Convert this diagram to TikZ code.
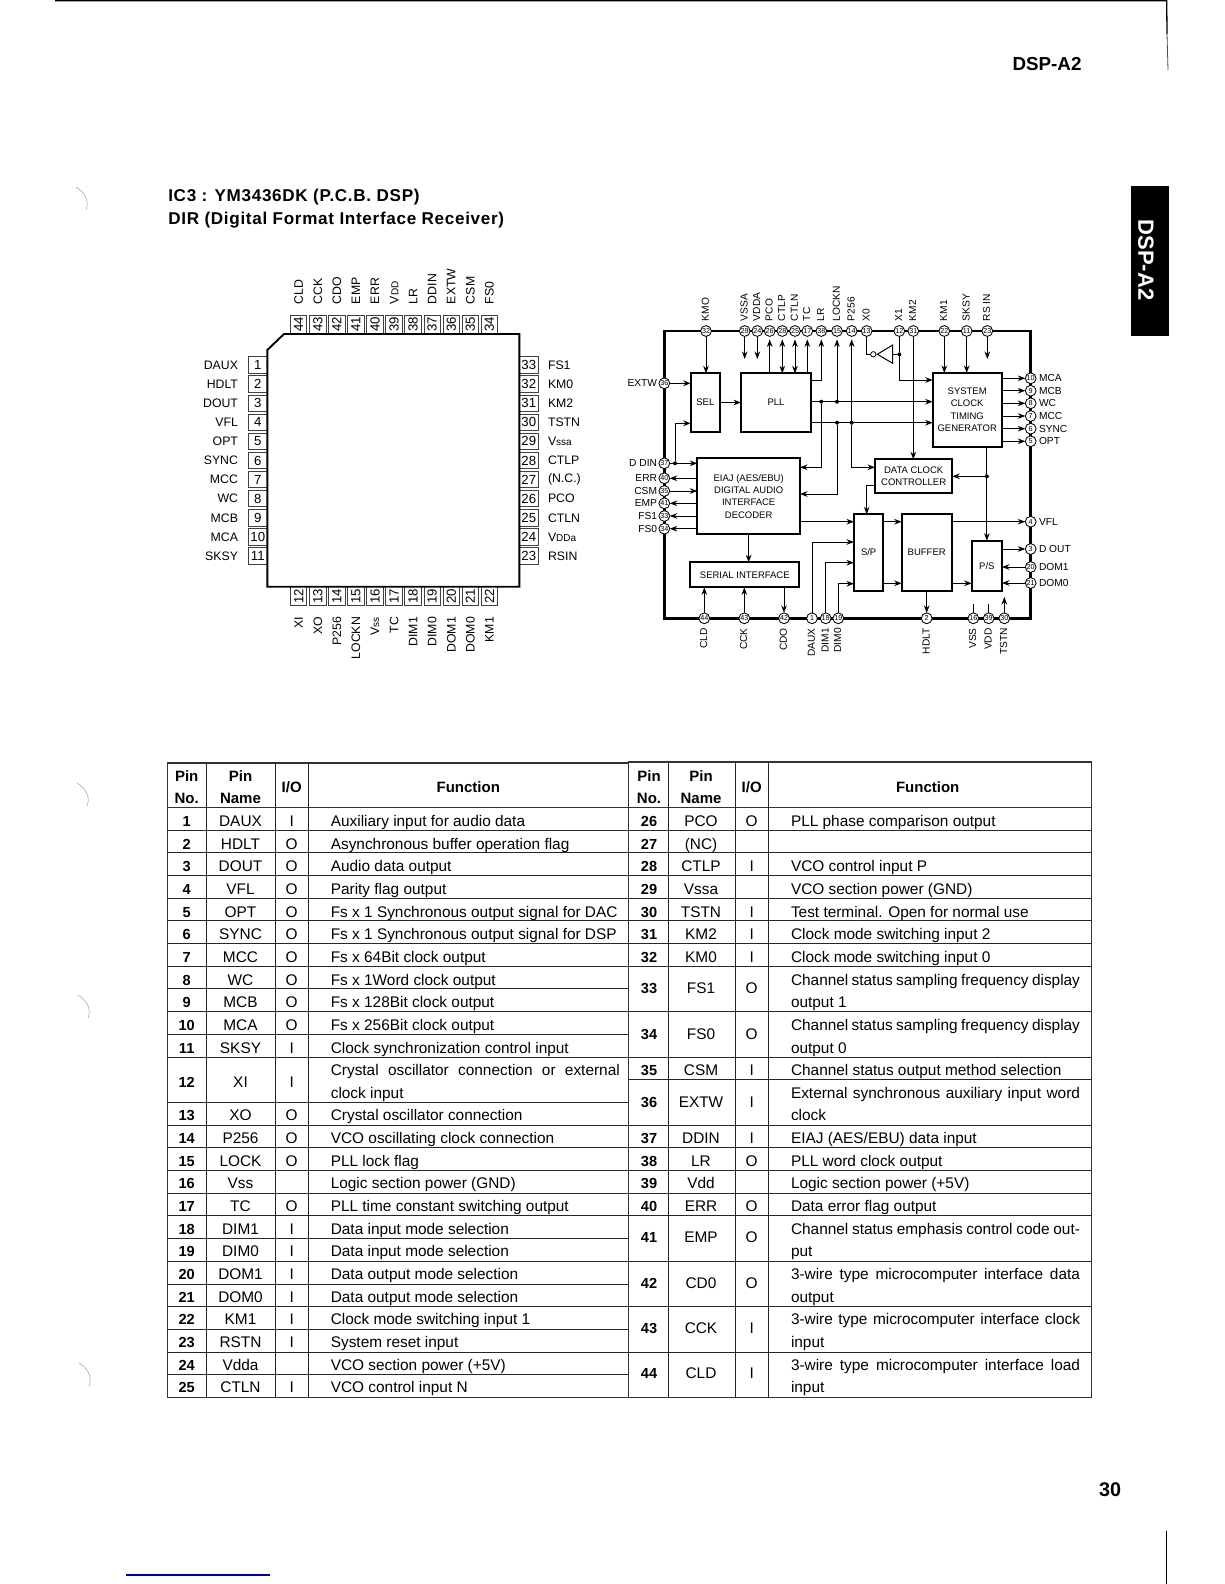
\documentclass[tikz,border=0pt]{standalone}
\usepackage{fontspec}
\setmainfont{Liberation Sans}
\newfontfamily\titlefont[LetterSpace=4]{Liberation Sans}
\usetikzlibrary{arrows.meta}
\newcommand{\fs}[1]{\fontsize{#1pt}{#1pt}\selectfont}
\newlength{\wrapw}\setlength{\wrapw}{289pt}
\tikzset{
  x=1pt,y=-1pt,
  every node/.style={inner sep=0pt,outer sep=0pt},
  icbody/.style={draw=black,line width=1.9pt,line join=miter},
  icpin/.style={draw=black!75,line width=0.9pt,fill=white,minimum size=0pt,font=\fs{13.2}},
  hpin/.style={icpin,minimum width=19pt,minimum height=16.4pt},
  vpin/.style={icpin,minimum width=16.4pt,minimum height=19pt},
  iclab/.style={font=\fs{12.3}},
  frame/.style={draw=black,line width=2.5pt},
  blk/.style={draw=black,line width=1.8pt,font=\fs{9.5},align=center},
  pin/.style={circle,draw=black,line width=0.85pt,fill=white,minimum size=10.8pt,font=\fs{7.2}},
  dlab/.style={font=\fs{10.2}},
  dot/.style={circle,fill=black,minimum size=4pt},
  wire/.style={draw=black,line width=1pt},
  ar/.style={wire,-{Stealth[length=7.5pt,width=5.6pt]}},
  arn/.style={ar,shorten >=3pt},
  br/.style={wire,{Stealth[length=7.5pt,width=5.6pt]}-{Stealth[length=7.5pt,width=5.6pt]},shorten >=3pt},
  tline/.style={draw=black!85,line width=1pt},
  touter/.style={draw=black!80,line width=1.2pt},
  cell/.style={font=\fs{15.4},anchor=base},
  bcell/.style={font=\bfseries\fs{14.6},anchor=base},
  head/.style={font=\bfseries\fs{15},anchor=base},
  ftext/.style={font=\fs{15.4},anchor=base west},
  scuff/.style={draw=black!45,line width=0.4pt}
}
\newcommand{\LR}[5]{%
  \node[bcell] (ln#2) at (186.7,{807.3+22.64*(#1+1)-3.3}) {#2};
  \node[cell] (lm#2) at (240.5,{807.3+22.64*(#1+1)-3.3}) {#3};
  \node[cell] (li#2) at (291.7,{807.3+22.64*(#1+1)-3.3}) {#4};
  \node[ftext] (lf#2) at (330.8,{807.3+22.64*(#1+1)-3.3}) {#5};}
\newcommand{\RR}[5]{%
  \node[bcell] (rn#2) at (649,{807.3+22.64*(#1+1)-3.3}) {#2};
  \node[cell] (rm#2) at (701,{807.3+22.64*(#1+1)-3.3}) {#3};
  \node[cell] (ri#2) at (751.7,{807.3+22.64*(#1+1)-3.3}) {#4};
  \node[ftext] (rf#2) at (791,{807.3+22.64*(#1+1)-3.3}) {#5};}
\newcommand{\RS}[6]{%
  \node[bcell] (rn#2) at (649,{807.3+22.64*(#1+1)+5.5}) {#2};
  \node[cell] (rm#2) at (701,{807.3+22.64*(#1+1)+5.5}) {#3};
  \node[cell] (ri#2) at (751.7,{807.3+22.64*(#1+1)+5.5}) {#4};
  \node[ftext] (rf#2) at (791,{807.3+22.64*(#1+1)-3.3}) {\makebox[\wrapw][s]{#5}};
  \node[ftext] (rg#2) at (791,{807.3+22.64*(#1+2)-3.3}) {#6};}
\begin{document}
\begin{tikzpicture}
\useasboundingbox (0,0) rectangle (1224,1584);
\fill[white] (0,0) rectangle (1224,1584);
% page furniture
\draw[black,line width=1.3pt] (55,0.8) -- (1166.7,0.8) -- (1167,34);
\draw[black!70,line width=0.8pt] (1167,34) -- (1168,70);
\draw[black,line width=0.9pt] (1166.5,1531) -- (1166.5,1584);
\draw[blue!60!black,line width=1.1pt] (126,1575) -- (270,1575);
\foreach \dy/\dx in {0/0,596/1,808/2,1176/3}{
  \draw[scuff] (76+\dx,187+\dy) .. controls (84+\dx,192+\dy) and (90+\dx,200+\dy) .. (86+\dx,210+\dy);}
\node[font=\bfseries\fs{18.8},anchor=west] (hdr) at (1012.5,64.5) {DSP-A2};
\node[font=\bfseries\fs{19.8},anchor=west] (pgno) at (1099,1490) {30};
\node[fill=black,minimum width=38.3pt,minimum height=150pt] (tab) at (1149.85,261) {};
\node[font=\bfseries\fs{22},text=white,rotate=-90] (tabt) at (1146,260) {DSP-A2};
\node[font=\titlefont\bfseries\fs{17.1},anchor=west] (t1) at (168.3,197) {IC3 : YM3436DK (P.C.B. DSP)};
\node[font=\titlefont\bfseries\fs{17.1},anchor=west] (t2) at (168.3,220) {DIR (Digital Format Interface Receiver)};
% ---------- package outline ----------
\coordinate (bA) at (284,334);\coordinate (bB) at (519.3,334);
\coordinate (bC) at (519.3,586.7);\coordinate (bD) at (267.3,586.7);\coordinate (bE) at (267.3,350);
\foreach \n/\l [count=\i from 0] in {1/DAUX,2/HDLT,3/DOUT,4/VFL,5/OPT,6/SYNC,7/MCC,8/WC,9/MCB,10/MCA,11/SKSY}{
  \node[hpin] (Lp\n) at (257.8,365+19.1*\i) {\n};
  \node[iclab,anchor=east] (Ll\n) at (238,365+19.1*\i) {\l};}
\foreach \n/\l [count=\i from 0] in {33/FS1,32/KM0,31/KM2,30/TSTN,29/{V{\fs{10}ssa}},28/CTLP,27/(N.C.),26/PCO,25/CTLN,24/{V{\fs{10}DDa}},23/RSIN}{
  \node[hpin] (Rp\n) at (528.8,365+19.1*\i) {\n};
  \node[iclab,anchor=west] (Rl\n) at (548,365+19.1*\i) {\l};}
\foreach \n/\l [count=\i from 0] in {44/CLD,43/CCK,42/CDO,41/EMP,40/ERR,39/{V{\fs{10}DD}},38/LR,37/DDIN,36/EXTW,35/CSM,34/FS0}{
  \node[vpin] (Tp\n) at (298.7+19.07*\i,324.5) {\rotatebox{90}{\n}};
  \node[iclab,anchor=west,rotate=90] (Tl\n) at (298.7+19.07*\i,304) {\l};}
\foreach \n/\l [count=\i from 0] in {12/XI,13/XO,14/P256,15/LOCKN,16/{V{\fs{10}ss}},17/TC,18/DIM1,19/DIM0,20/DOM1,21/DOM0,22/KM1}{
  \node[vpin] (Bp\n) at (298.7+19.07*\i,596.3) {\rotatebox{90}{\n}};
  \node[iclab,anchor=east,rotate=90] (Bl\n) at (298.7+19.07*\i,617) {\l};}
\draw[icbody] (bA) -- (bB) -- (bC) -- (bD) -- (bE) -- cycle;
% ---------- block diagram ----------
\node[frame,minimum width=366.4pt,minimum height=287.3pt] (frm) at (847.5,474.65) {};
\foreach \n/\x/\l in {32/706/KMO,29/744.7/VSSA,24/757.3/VDDA,26/769.7/PCO,28/782.3/CTLP,25/795/CTLN,17/807.3/TC,38/821.3/LR,15/837/LOCKN,14/851.7/P256,13/866.7/X0,12/899.3/X1,31/913.3/KM2,22/944.3/KM1,11/966.7/SKSY,23/987.3/RS IN}{
  \node[pin] (p\n) at (\x,331) {\n};
  \node[dlab,anchor=west,rotate=90] (l\n) at (\x-0.7,321) {\l};}
\foreach \n/\y/\l in {36/383.3/EXTW,37/463.3/D DIN,40/478.3/ERR,35/491/CSM,41/503.3/EMP,33/516/FS1,34/528.7/FS0}{
  \node[pin] (p\n) at (664.3,\y) {\n};
  \node[dlab,anchor=east] (l\n) at (657,\y) {\l};}
\foreach \n/\y/\l in {10/378.3/MCA,9/390.7/MCB,8/403.3/WC,7/416/MCC,6/428.7/SYNC,5/441.3/OPT,4/521.7/VFL,3/549/D OUT,20/567/DOM1,21/583/DOM0}{
  \node[pin] (p\n) at (1030.7,\y) {\n};
  \node[dlab,anchor=west] (l\n) at (1039,\y) {\l};}
\foreach \n/\x/\l in {44/704.3/CLD,43/744.3/CCK,42/784/CDO,1/812/DAUX,18/825.7/DIM1,19/838.3/DIM0,2/926.7/HDLT,16/973.3/VSS,39/988.7/VDD,30/1004.3/TSTN}{
  \node[pin] (p\n) at (\x,618.3) {\n};
  \node[dlab,anchor=east,rotate=90] (l\n) at (\x-0.7,628.3) {\l};}
\node[blk,minimum width=29.3pt,minimum height=58.4pt] (sel) at (705.35,402.5) {SEL};
\node[blk,minimum width=70pt,minimum height=58.4pt] (pll) at (776,402.5) {PLL};
\node[blk,minimum width=69pt,minimum height=73.7pt] (sys) at (967.2,409.85) {SYSTEM\\[2.8pt]CLOCK\\[2.8pt]TIMING\\[2.8pt]GENERATOR};
\node[blk,minimum width=102.7pt,minimum height=75.7pt] (eiaj) at (748.65,496.15) {EIAJ (AES/EBU)\\[2.8pt]DIGITAL AUDIO\\[2.8pt]INTERFACE\\[2.8pt]DECODER};
\node[blk,minimum width=77.3pt,minimum height=34pt] (dcc) at (913.65,476.3) {DATA CLOCK\\[2.8pt]CONTROLLER};
\node[blk,minimum width=29.3pt,minimum height=76.4pt] (sp) at (868.65,552.5) {S/P};
\node[blk,minimum width=50pt,minimum height=76.4pt] (buf) at (926.7,552.5) {BUFFER};
\node[blk,minimum width=30.3pt,minimum height=50pt] (ps) at (986.85,565.7) {P/S};
\node[blk,minimum width=109pt,minimum height=25pt] (ser) at (744.8,574.8) {SERIAL INTERFACE};
% helper rails
\coordinate (ya) at (0,401.7); \coordinate (yb) at (0,422.7);
\coordinate (yc) at (0,467.3); \coordinate (yd) at (0,494);
\coordinate (ye) at (0,583.3); \coordinate (pwr) at (0,359);
\coordinate (lrb) at (0,380); \coordinate (spin) at (866.7,485);
\coordinate (xinv) at (0,354.3);
\node[dot] (d1) at (p38 |- ya) {};
\node[dot] (d2) at (p15 |- ya) {};
\node[dot] (d3) at (p15 |- yb) {};
\node[dot] (d4) at (p14 |- yb) {};
\node[dot] (d5) at (p12 |- xinv) {};
\node[dot] (d6) at (ps.north |- dcc.east) {};
\node[dot] (d7) at (675,463.3) {};
% top connections
\draw[ar] (p32) -- (p32 |- sel.north);
\draw[ar] (p29) -- (p29 |- pwr);
\draw[ar] (p24) -- (p24 |- pwr);
\draw[ar] (p23) -- (p23 |- pwr);
\draw[arn] (pll.north -| p26) -- (p26);
\draw[br] (pll.north -| p28) -- (p28);
\draw[br] (pll.north -| p25) -- (p25);
\draw[arn] (pll.north -| p17) -- (p17);
\draw[arn] (pll.east |- lrb) -- (p38 |- lrb) -- (p38);
\draw[ar] (pll.east |- ya) -- (sys.west |- ya);
\draw[ar] (pll.east |- yb) -- (sys.west |- yb);
\draw[arn] (d2) -- (p15);
\draw[ar] (d1) -- (p38 |- yc) -- (eiaj.east |- yc);
\draw[ar] (d3) -- (p15 |- yd) -- (eiaj.east |- yd);
\draw[arn] (d4) -- (p14);
\draw[ar] (d4) -- (p14 |- yc) -- (dcc.west |- yc);
% oscillator
\node[circle,draw=black,line width=0.8pt,fill=white,minimum size=5.4pt] (bub) at (873.3,354.3) {};
\coordinate (ia) at (877.3,354.3);\coordinate (ib) at (892.7,345);\coordinate (ic) at (892.7,363.3);\coordinate (id) at (892.7,354.3);
\draw[black,line width=1pt] (ia) -- (ib) -- (ic) -- cycle;
\draw[wire] (p13) -- (p13 |- xinv) -- (bub);
\draw[wire] (id) -- (d5);
\draw[wire] (p12) -- (d5);
\draw[ar] (d5) -- (p12 |- lrb) -- (sys.west |- lrb);
\draw[ar] (p31) -- (p31 |- dcc.north);
\draw[ar] (p22) -- (p22 |- sys.north);
\draw[ar] (p11) -- (p11 |- sys.north);
% system clock outputs
\foreach \n in {10,9,8,7,6,5}{\draw[ar] (sys.east |- p\n) -- (p\n);}
\draw[ar] (ps.north |- sys.south) -- (ps.north);
\draw[ar] (d6) -- (dcc.east);
% left side
\draw[ar] (p36) -- (p36 -| sel.west);
\draw[ar] (sel.east) -- (pll.west);
\draw[wire] (p37) -- (d7);
\draw[ar] (d7) -- (d7 -| eiaj.west);
\draw[ar] (d7) -- (d7 |- 0,423.3) -- (sel.west |- 0,423.3);
\draw[ar] (eiaj.west |- p40) -- (p40);
\draw[ar] (p35) -- (eiaj.west |- p35);
\draw[ar] (eiaj.west |- p41) -- (p41);
\draw[ar] (eiaj.west |- p33) -- (p33);
\draw[ar] (eiaj.west |- p34) -- (p34);
% data path
\draw[ar] (eiaj.east |- p4) -- (sp.west |- p4);
\draw[ar] (sp.east |- p4) -- (buf.west |- p4);
\draw[ar] (sp.east |- ye) -- (buf.west |- ye);
\draw[ar] (buf.east |- p4) -- (p4);
\draw[ar] (buf.east |- ye) -- (ps.west |- ye);
\draw[ar] (buf.south) -- (p2);
\draw[ar] (ps.east |- p3) -- (p3);
\draw[ar] (p20) -- (ps.east |- p20);
\draw[ar] (p21) -- (ps.east |- p21);
\draw[wire] (p16) -- (p16 |- 0,604);
\draw[wire] (p39) -- (p39 |- 0,604);
\draw[ar] (p30) -- (p30 |- 0,597);
\draw[ar] (p44) -- (p44 |- ser.south);
\draw[ar] (p43) -- (p43 |- ser.south);
\draw[ar] (ser.south -| p42) -- (p42);
\draw[ar] (p1) -- (p1 |- 0,542) -- (sp.west |- 0,542);
\draw[ar] (p18) -- (p18 |- 0,562.7) -- (sp.west |- 0,562.7);
\draw[ar] (p19) -- (p19 |- 0,583.7) -- (sp.west |- 0,583.7);
\draw[wire] (dcc.west |- spin) -- (spin);
\draw[ar] (spin) -- (spin |- sp.north);
\draw[ar] (eiaj.south) -- (eiaj.south |- ser.north);
% ---------- table rules ----------
\draw[touter] (167.3,763) rectangle (628.5,1397.5);
\draw[touter] (628.5,762) rectangle (1091.7,1397.5);
\foreach \x in {206.7,275,308.3,668,735,768.7}{\draw[tline] (\x,763) -- (\x,1397.5);}
\draw[touter] (167.3,807.3) -- (1091.7,807.3);
\foreach \b in {1,...,25}{
  \ifnum\b=12\else\draw[tline] (167.3,807.3+22.7*\b) -- (628.5,807.3+22.7*\b);\fi}
\foreach \b in {1,2,3,4,5,6,7,9,11,12,14,15,16,17,18,20,22,24}{
  \draw[tline] (628.5,807.3+22.7*\b) -- (1091.7,807.3+22.7*\b);}
% headers
\node[head] (h1a) at (186.7,781) {Pin};
\node[head] (h1b) at (186.7,803.5) {No.};
\node[head] (h2a) at (240.5,781) {Pin};
\node[head] (h2b) at (240.5,803.5) {Name};
\node[head] (h3) at (291.7,792.3) {I/O};
\node[head] (h4) at (468.3,792.3) {Function};
\node[head] (h5a) at (649,781) {Pin};
\node[head] (h5b) at (649,803.5) {No.};
\node[head] (h6a) at (701,781) {Pin};
\node[head] (h6b) at (701,803.5) {Name};
\node[head] (h7) at (751.7,792.3) {I/O};
\node[head] (h8) at (927.7,792.3) {Function};
% left rows
\LR{0}{1}{DAUX}{I}{Auxiliary input for audio data}
\LR{1}{2}{HDLT}{O}{Asynchronous buffer operation flag}
\LR{2}{3}{DOUT}{O}{Audio data output}
\LR{3}{4}{VFL}{O}{Parity flag output}
\LR{4}{5}{OPT}{O}{Fs x 1 Synchronous output signal for DAC}
\LR{5}{6}{SYNC}{O}{Fs x 1 Synchronous output signal for DSP}
\LR{6}{7}{MCC}{O}{Fs x 64Bit clock output}
\LR{7}{8}{WC}{O}{Fs x 1Word clock output}
\LR{8}{9}{MCB}{O}{Fs x 128Bit clock output}
\LR{9}{10}{MCA}{O}{Fs x 256Bit clock output}
\LR{10}{11}{SKSY}{I}{Clock synchronization control input}
\node[bcell] (ln12) at (186.7,1087) {12};
\node[cell] (lm12) at (240.5,1087) {XI};
\node[cell] (li12) at (291.7,1087) {I};
\node[ftext] (lf12) at (330.8,{807.3+22.64*12-3.3}) {\makebox[\wrapw][s]{Crystal oscillator connection or external}};
\node[ftext] (lg12) at (330.8,{807.3+22.64*13-3.3}) {clock input};
\LR{13}{13}{XO}{O}{Crystal oscillator connection}
\LR{14}{14}{P256}{O}{VCO oscillating clock connection}
\LR{15}{15}{LOCK}{O}{PLL lock flag}
\LR{16}{16}{Vss}{}{Logic section power (GND)}
\LR{17}{17}{TC}{O}{PLL time constant switching output}
\LR{18}{18}{DIM1}{I}{Data input mode selection}
\LR{19}{19}{DIM0}{I}{Data input mode selection}
\LR{20}{20}{DOM1}{I}{Data output mode selection}
\LR{21}{21}{DOM0}{I}{Data output mode selection}
\LR{22}{22}{KM1}{I}{Clock mode switching input 1}
\LR{23}{23}{RSTN}{I}{System reset input}
\LR{24}{24}{Vdda}{}{VCO section power (+5V)}
\LR{25}{25}{CTLN}{I}{VCO control input N}
% right rows
\RR{0}{26}{PCO}{O}{PLL phase comparison output}
\RR{1}{27}{(NC)}{}{}
\RR{2}{28}{CTLP}{I}{VCO control input P}
\RR{3}{29}{Vssa}{}{VCO section power (GND)}
\RR{4}{30}{TSTN}{I}{Test terminal. Open for normal use}
\RR{5}{31}{KM2}{I}{Clock mode switching input 2}
\RR{6}{32}{KM0}{I}{Clock mode switching input 0}
\RS{7}{33}{FS1}{O}{Channel status sampling frequency display}{output 1}
\RS{9}{34}{FS0}{O}{Channel status sampling frequency display}{output 0}
\RR{11}{35}{CSM}{I}{Channel status output method selection}
\RS{12}{36}{EXTW}{I}{External synchronous auxiliary input word}{clock}
\RR{14}{37}{DDIN}{I}{EIAJ (AES/EBU) data input}
\RR{15}{38}{LR}{O}{PLL word clock output}
\RR{16}{39}{Vdd}{}{Logic section power (+5V)}
\RR{17}{40}{ERR}{O}{Data error flag output}
\RS{18}{41}{EMP}{O}{Channel status emphasis control code out-}{put}
\RS{20}{42}{CD0}{O}{3-wire type microcomputer interface data}{output}
\RS{22}{43}{CCK}{I}{3-wire type microcomputer interface clock}{input}
\RS{24}{44}{CLD}{I}{3-wire type microcomputer interface load}{input}
\end{tikzpicture}
\end{document}
